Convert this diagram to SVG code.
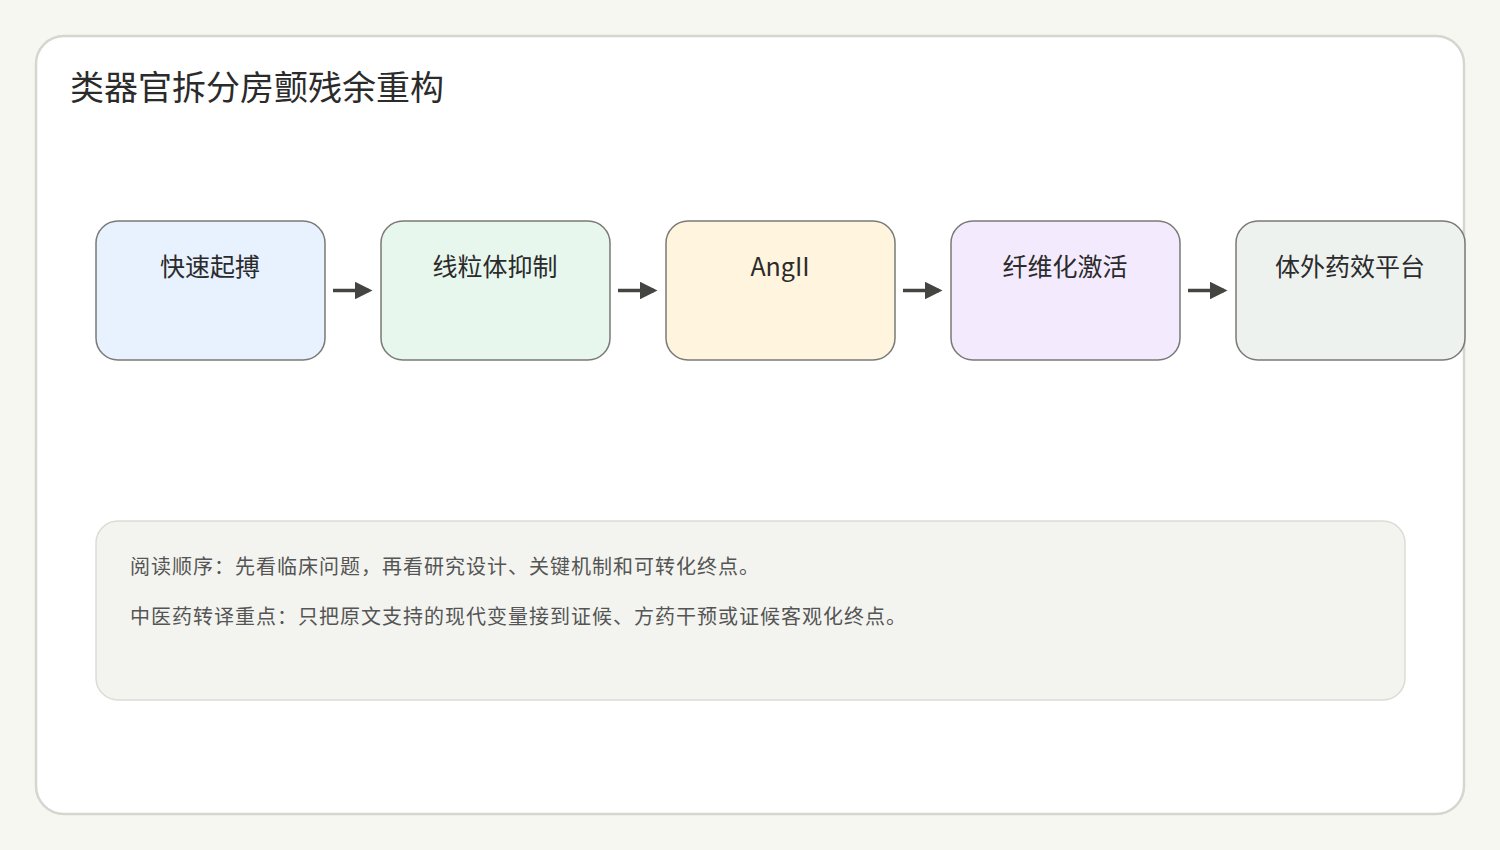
<svg xmlns="http://www.w3.org/2000/svg" width="1500" height="850" viewBox="0 0 1500 850">
<style>
text{font-family:"Noto Sans CJK SC","Noto Sans",sans-serif;fill:#2b2b2b}
.n{stroke:#7a7a76;stroke-width:1.5}
.l{font-size:25px;text-anchor:middle}
.c{stroke:#444441;stroke-width:3.5;fill:none;marker-end:url(#a)}
.note{font-size:20px;fill:#555;letter-spacing:1px}
</style>
<defs><marker id="a" markerWidth="5" markerHeight="5" refX="4" refY="2.5" orient="auto" markerUnits="strokeWidth"><path d="M0,0L5,2.5L0,5z" fill="#444441"/></marker></defs>
<rect width="1500" height="850" fill="#f7f7f2"/>
<rect x="36" y="36" width="1428" height="778" rx="28" fill="#fff" stroke="#d6d6d0" stroke-width="2.5"/>
<text x="70" y="100" font-size="34">类器官拆分房颤残余重构</text>
<g id="n1"><rect class="n" x="96" y="221" width="229" height="139" rx="22" fill="#e8f1fe"/><text class="l" x="210" y="276">快速起搏</text></g>
<g id="n2"><rect class="n" x="381" y="221" width="229" height="139" rx="22" fill="#e7f7ed"/><text class="l" x="495" y="276">线粒体抑制</text></g>
<g id="n3"><rect class="n" x="666" y="221" width="229" height="139" rx="22" fill="#fff4de"/><text class="l" x="780" y="276">AngII</text></g>
<g id="n4"><rect class="n" x="951" y="221" width="229" height="139" rx="22" fill="#f3eafd"/><text class="l" x="1065" y="276">纤维化激活</text></g>
<g id="n5"><rect class="n" x="1236" y="221" width="229" height="139" rx="22" fill="#edf2ef"/><text class="l" x="1350" y="276">体外药效平台</text></g>
<g id="connectors">
<line class="c" x1="333" y1="290.5" x2="369" y2="290.5"/>
<line class="c" x1="618" y1="290.5" x2="654" y2="290.5"/>
<line class="c" x1="903" y1="290.5" x2="939" y2="290.5"/>
<line class="c" x1="1188" y1="290.5" x2="1224" y2="290.5"/>
</g>
<g id="note"><rect x="96" y="521" width="1309" height="179" rx="22" fill="#f3f4ef" stroke="#dcdcd6" stroke-width="1.5"/>
<text class="note" x="130" y="574">阅读顺序：先看临床问题，再看研究设计、关键机制和可转化终点。</text>
<text class="note" x="130" y="624">中医药转译重点：只把原文支持的现代变量接到证候、方药干预或证候客观化终点。</text></g>
</svg>
